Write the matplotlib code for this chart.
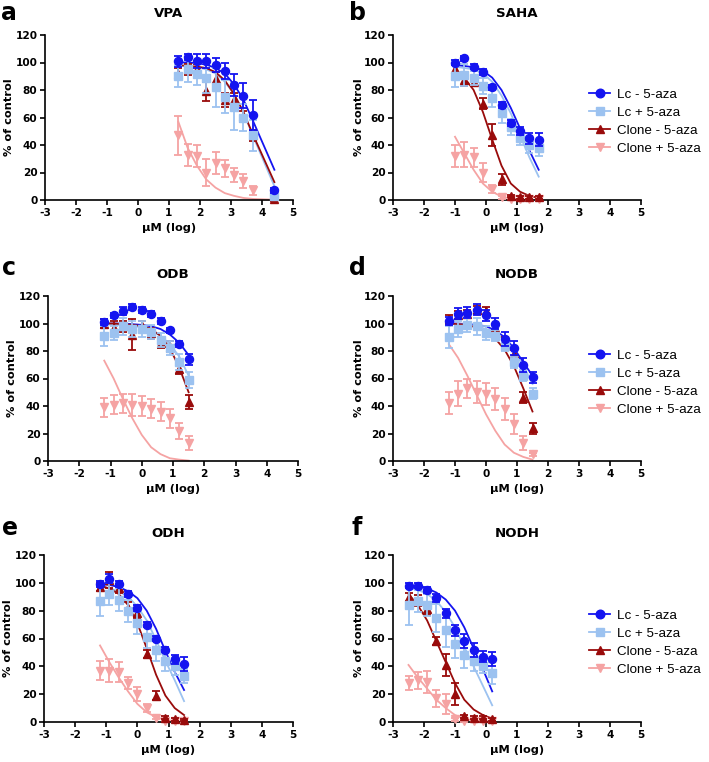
import matplotlib
matplotlib.use("Agg")
import matplotlib.pyplot as plt
from matplotlib.lines import Line2D

plt.rcParams["font.family"] = ["DejaVu Sans"]
plt.rcParams["axes.unicode_minus"] = False

# --- series styling ----------------------------------------------------------
LABELS = ["Lc - 5-aza", "Lc + 5-aza", "Clone - 5-aza", "Clone + 5-aza"]
COLORS = ["#1414f0", "#9cc2f0", "#990b0b", "#f5a3a3"]
MARKERS = ["o", "s", "^", "v"]
MSIZES = [5.8, 5.4, 5.8, 5.8]

# --- a: VPA ------------------------------------------------------------------
VPA_X = [1.3, 1.6, 1.9, 2.2, 2.5, 2.8, 3.1, 3.4, 3.7, 4.4]
VPA_LC_NEG = [101, 104, 101, 101, 98, 94, 84, 76, 62, 7]
VPA_LC_NEG_ERR = [4, 2, 5, 5, 5, 6, 8, 9, 11, 2]
VPA_LC_POS = [90, 95, 92, 89, 82, 75, 68, 60, 47, 3]
VPA_LC_POS_ERR = [8, 9, 8, 11, 14, 12, 17, 10, 11, 2]
VPA_CL_NEG = [92, 95, 95, 79, 88, 73, 73, 61, 47, 0.5]
VPA_CL_NEG_ERR = [4, 4, 4, 7, 5, 5, 5, 4, 4, 1]
VPA_CL_POS = [47, 33, 32, 20, 27, 23, 18, 14, 7, 0.5]
VPA_CL_POS_ERR = [14, 8, 8, 10, 8, 6, 5, 5, 3, 1]
VPA_LC_NEG_FIT = [100, 100, 99.5, 98.5, 96, 92, 84, 73, 58, 22]
VPA_LC_POS_FIT = [98, 97.5, 96.5, 95, 92, 86, 77, 64, 47, 10]
VPA_CL_NEG_FIT = [98, 97.5, 97, 96, 93, 87, 77, 64, 48, 13]
VPA_CL_POS_FIT = [57, 38, 25, 15, 9, 5, 3, 1.5, 0.8, 0.2]

# --- b: SAHA -----------------------------------------------------------------
SAHA_X = [-1.0, -0.7, -0.4, -0.1, 0.2, 0.5, 0.8, 1.1, 1.4, 1.7]
SAHA_LC_NEG = [100, 103, 97, 93, 82, 69, 56, 50, 45, 44]
SAHA_LC_NEG_ERR = [2, 2, 2, 2, 2, 2, 2, 3, 4, 5]
SAHA_LC_POS = [90, 91, 89, 83, 74, 63, 53, 45, 40, 38]
SAHA_LC_POS_ERR = [8, 8, 5, 6, 6, 7, 6, 5, 6, 6]
SAHA_CL_NEG = [95, 87, 86, 70, 47, 15, 3, 2, 2, 2]
SAHA_CL_NEG_ERR = [3, 4, 3, 4, 8, 4, 1, 1, 1, 1]
SAHA_CL_POS = [32, 33, 31, 20, 8, 2, 1, 0.5, 0.5, 0.5]
SAHA_CL_POS_ERR = [8, 9, 7, 7, 3, 1, 0.5, 0.5, 0.5, 0.5]
SAHA_LC_NEG_FIT = [98, 97.5, 96.5, 94, 89, 80, 67, 52, 36, 22]
SAHA_LC_POS_FIT = [97, 96, 95, 92, 86, 76, 63, 47, 31, 17]
SAHA_CL_NEG_FIT = [95, 89, 80, 64, 44, 25, 12, 6, 3, 1.5]
SAHA_CL_POS_FIT = [46, 34, 22, 12, 6, 2.5, 1, 0.5, 0.3, 0.2]

# --- c: ODB ------------------------------------------------------------------
ODB_X = [-1.2, -0.9, -0.6, -0.3, 0.0, 0.3, 0.6, 0.9, 1.2, 1.5]
ODB_LC_NEG = [101, 106, 109, 112, 110, 107, 102, 95, 85, 74]
ODB_LC_NEG_ERR = [2, 2, 3, 2, 2, 2, 2, 2, 2, 4]
ODB_LC_POS = [91, 93, 98, 96, 96, 94, 88, 82, 72, 59]
ODB_LC_POS_ERR = [7, 5, 6, 6, 6, 5, 5, 5, 6, 6]
ODB_CL_NEG = [100, 97, 98, 92, 98, 93, 86, 83, 67, 43]
ODB_CL_NEG_ERR = [3, 5, 4, 11, 4, 4, 4, 4, 4, 5]
ODB_CL_POS = [39, 41, 42, 41, 40, 38, 36, 31, 22, 13]
ODB_CL_POS_ERR = [7, 7, 7, 8, 7, 7, 7, 7, 6, 5]
ODB_LC_NEG_FIT = [100, 100, 100, 99.5, 99, 98, 96, 92, 86, 77]
ODB_LC_POS_FIT = [99.5, 99, 99, 98.5, 97, 95, 91, 85, 76, 62]
ODB_CL_NEG_FIT = [100, 100, 99.5, 99, 98, 96, 91, 82, 68, 50]
ODB_CL_POS_FIT = [73, 60, 45, 31, 19, 10, 5, 2, 1, 0.3]

# --- d: NODB -----------------------------------------------------------------
NODB_X = [-1.2, -0.9, -0.6, -0.3, 0.0, 0.3, 0.6, 0.9, 1.2, 1.5]
NODB_LC_NEG = [102, 107, 108, 110, 106, 100, 89, 82, 70, 61]
NODB_LC_NEG_ERR = [3, 4, 4, 4, 4, 4, 5, 5, 5, 4]
NODB_LC_POS = [90, 96, 99, 98, 93, 91, 84, 72, 62, 49]
NODB_LC_POS_ERR = [8, 6, 5, 6, 5, 4, 4, 4, 4, 4]
NODB_CL_NEG = [103, 106, 107, 110, 109, 97, 87, 78, 46, 24]
NODB_CL_NEG_ERR = [3, 3, 3, 3, 3, 3, 3, 3, 4, 4]
NODB_CL_POS = [42, 49, 53, 50, 49, 45, 38, 27, 13, 5]
NODB_CL_POS_ERR = [8, 9, 7, 8, 8, 8, 8, 7, 5, 1]
NODB_LC_NEG_FIT = [100, 100, 99.5, 99, 98, 95, 90, 82, 72, 62]
NODB_LC_POS_FIT = [100, 99.5, 99, 98, 96, 93, 88, 80, 69, 56]
NODB_CL_NEG_FIT = [100, 99.5, 99, 97, 94, 89, 81, 69, 53, 36]
NODB_CL_POS_FIT = [85, 75, 62, 48, 34, 22, 12, 6, 3, 1]

# --- e: ODH ------------------------------------------------------------------
ODH_X = [-1.2, -0.9, -0.6, -0.3, 0.0, 0.3, 0.6, 0.9, 1.2, 1.5]
ODH_LC_NEG = [99, 103, 99, 92, 82, 70, 60, 52, 45, 42]
ODH_LC_NEG_ERR = [2, 3, 2, 2, 2, 2, 2, 2, 3, 5]
ODH_LC_POS = [87, 92, 88, 80, 71, 61, 52, 44, 40, 33]
ODH_LC_POS_ERR = [11, 8, 8, 8, 8, 8, 8, 7, 6, 5]
ODH_CL_NEG = [97, 102, 96, 82, 78, 49, 19, 3, 2, 1.5]
ODH_CL_NEG_ERR = [3, 6, 3, 4, 3, 3, 3, 1, 1, 1]
ODH_CL_POS = [37, 37, 36, 28, 20, 10, 3, 1, 0.5, 0.5]
ODH_CL_POS_ERR = [7, 8, 7, 4, 5, 3, 1, 0.5, 0.5, 0.5]
ODH_LC_NEG_FIT = [99, 98.5, 97, 94, 89, 80, 67, 51, 36, 23]
ODH_LC_POS_FIT = [97, 96, 94, 90, 83, 73, 59, 44, 30, 15]
ODH_CL_NEG_FIT = [98, 96, 92, 84, 71, 53, 34, 19, 10, 5]
ODH_CL_POS_FIT = [55, 43, 32, 22, 13, 7, 3.5, 1.5, 0.7, 0.3]

# --- f: NODH -----------------------------------------------------------------
NODH_X = [-2.5, -2.2, -1.9, -1.6, -1.3, -1.0, -0.7, -0.4, -0.1, 0.2]
NODH_LC_NEG = [98, 98, 95, 89, 78, 66, 58, 52, 47, 45]
NODH_LC_NEG_ERR = [2, 2, 2, 3, 3, 4, 5, 5, 4, 5]
NODH_LC_POS = [84, 87, 84, 75, 66, 56, 48, 44, 40, 35]
NODH_LC_POS_ERR = [14, 8, 8, 10, 12, 10, 9, 7, 5, 8]
NODH_CL_NEG = [90, 87, 81, 58, 41, 20, 4, 3, 3, 2]
NODH_CL_NEG_ERR = [3, 4, 4, 3, 8, 8, 1, 1, 1, 1]
NODH_CL_POS = [28, 30, 29, 17, 13, 2, 0.5, 0.5, 0.5, 0.5]
NODH_CL_POS_ERR = [5, 6, 8, 6, 7, 1, 0.5, 0.5, 0.5, 0.5]
NODH_LC_NEG_FIT = [98, 97.5, 96, 93, 88, 80, 68, 53, 38, 22]
NODH_LC_POS_FIT = [97, 95, 92, 87, 79, 68, 54, 40, 26, 12]
NODH_CL_NEG_FIT = [92, 84, 73, 58, 43, 28, 16, 9, 5, 2.5]
NODH_CL_POS_FIT = [41, 32, 24, 16, 10, 5, 2.5, 1, 0.5, 0.3]

PANELS = [
    ("a", "VPA", VPA_X,
     [VPA_LC_NEG, VPA_LC_POS, VPA_CL_NEG, VPA_CL_POS],
     [VPA_LC_NEG_ERR, VPA_LC_POS_ERR, VPA_CL_NEG_ERR, VPA_CL_POS_ERR],
     [VPA_LC_NEG_FIT, VPA_LC_POS_FIT, VPA_CL_NEG_FIT, VPA_CL_POS_FIT]),
    ("b", "SAHA", SAHA_X,
     [SAHA_LC_NEG, SAHA_LC_POS, SAHA_CL_NEG, SAHA_CL_POS],
     [SAHA_LC_NEG_ERR, SAHA_LC_POS_ERR, SAHA_CL_NEG_ERR, SAHA_CL_POS_ERR],
     [SAHA_LC_NEG_FIT, SAHA_LC_POS_FIT, SAHA_CL_NEG_FIT, SAHA_CL_POS_FIT]),
    ("c", "ODB", ODB_X,
     [ODB_LC_NEG, ODB_LC_POS, ODB_CL_NEG, ODB_CL_POS],
     [ODB_LC_NEG_ERR, ODB_LC_POS_ERR, ODB_CL_NEG_ERR, ODB_CL_POS_ERR],
     [ODB_LC_NEG_FIT, ODB_LC_POS_FIT, ODB_CL_NEG_FIT, ODB_CL_POS_FIT]),
    ("d", "NODB", NODB_X,
     [NODB_LC_NEG, NODB_LC_POS, NODB_CL_NEG, NODB_CL_POS],
     [NODB_LC_NEG_ERR, NODB_LC_POS_ERR, NODB_CL_NEG_ERR, NODB_CL_POS_ERR],
     [NODB_LC_NEG_FIT, NODB_LC_POS_FIT, NODB_CL_NEG_FIT, NODB_CL_POS_FIT]),
    ("e", "ODH", ODH_X,
     [ODH_LC_NEG, ODH_LC_POS, ODH_CL_NEG, ODH_CL_POS],
     [ODH_LC_NEG_ERR, ODH_LC_POS_ERR, ODH_CL_NEG_ERR, ODH_CL_POS_ERR],
     [ODH_LC_NEG_FIT, ODH_LC_POS_FIT, ODH_CL_NEG_FIT, ODH_CL_POS_FIT]),
    ("f", "NODH", NODH_X,
     [NODH_LC_NEG, NODH_LC_POS, NODH_CL_NEG, NODH_CL_POS],
     [NODH_LC_NEG_ERR, NODH_LC_POS_ERR, NODH_CL_NEG_ERR, NODH_CL_POS_ERR],
     [NODH_LC_NEG_FIT, NODH_LC_POS_FIT, NODH_CL_NEG_FIT, NODH_CL_POS_FIT]),
]

# axes rects in pixels (left, top, right, bottom) on a 709x762 canvas
W, H = 709, 762
RECTS = [(45, 35, 293, 200), (393, 35, 641, 200),
         (48, 296, 298, 461), (393, 296, 641, 461),
         (44, 555, 293, 722), (393, 555, 641, 722)]
LETTER_POS = [(1, 20), (349, 20), (2, 275), (349, 275), (2, 535), (351, 535)]

fig = plt.figure(figsize=(W / 100, H / 100), dpi=100)

for k, (letter, title, x, means, errs, fits) in enumerate(PANELS):
    l, t, r, b = RECTS[k]
    ax = fig.add_axes([l / W, 1 - b / H, (r - l) / W, (b - t) / H])

    # bottom layer first: pink, dark red, light blue, blue on top
    for i in [3, 2, 1, 0]:
        ax.plot(x, fits[i], color=COLORS[i], lw=1.3, zorder=2 + i * 0.01,
                clip_on=False)
    for i in [3, 2, 1, 0]:
        ax.errorbar(x, means[i], yerr=errs[i], fmt=MARKERS[i], color=COLORS[i],
                    ms=MSIZES[i], mec=COLORS[i], elinewidth=1.3, capsize=2.6,
                    capthick=1.3, zorder=3 + (3 - i), clip_on=False)

    ax.set_xlim(-3, 5)
    ax.set_ylim(0, 120)
    ax.set_xticks(range(-3, 6))
    ax.set_yticks(range(0, 121, 20))
    for s in ["top", "right"]:
        ax.spines[s].set_visible(False)
    for s in ["left", "bottom"]:
        ax.spines[s].set_linewidth(1.2)
    ax.tick_params(direction="out", length=3.5, width=1.2, labelsize=7.6, pad=2)
    for lab in ax.get_xticklabels() + ax.get_yticklabels():
        lab.set_fontweight("bold")

    ax.set_xlabel("μM (log)", fontsize=8.2, fontweight="bold", labelpad=4)
    ax.set_ylabel("% of control", fontsize=8.2, fontweight="bold")
    ax.yaxis.set_label_coords(-0.125 if k % 2 == 0 else -0.115, 0.5)
    ax.set_title(title, fontsize=9.6, fontweight="bold", pad=13)

    lx, ly = LETTER_POS[k]
    fig.text(lx / W, 1 - ly / H, letter, fontsize=17, fontweight="bold",
             ha="left", va="baseline")

    if k % 2 == 1:
        handles = [Line2D([], [], color=COLORS[i], marker=MARKERS[i],
                          ms=MSIZES[i] + 0.4, lw=1.3) for i in range(4)]
        ax.legend(handles, LABELS, loc="center left", bbox_to_anchor=(0.79, 0.475),
                  frameon=False, handlelength=1.6, handletextpad=0.5,
                  labelspacing=0.42, borderpad=0, borderaxespad=0,
                  prop={"family": "Liberation Sans", "size": 9.6})

fig.savefig("out.png", dpi=100)
